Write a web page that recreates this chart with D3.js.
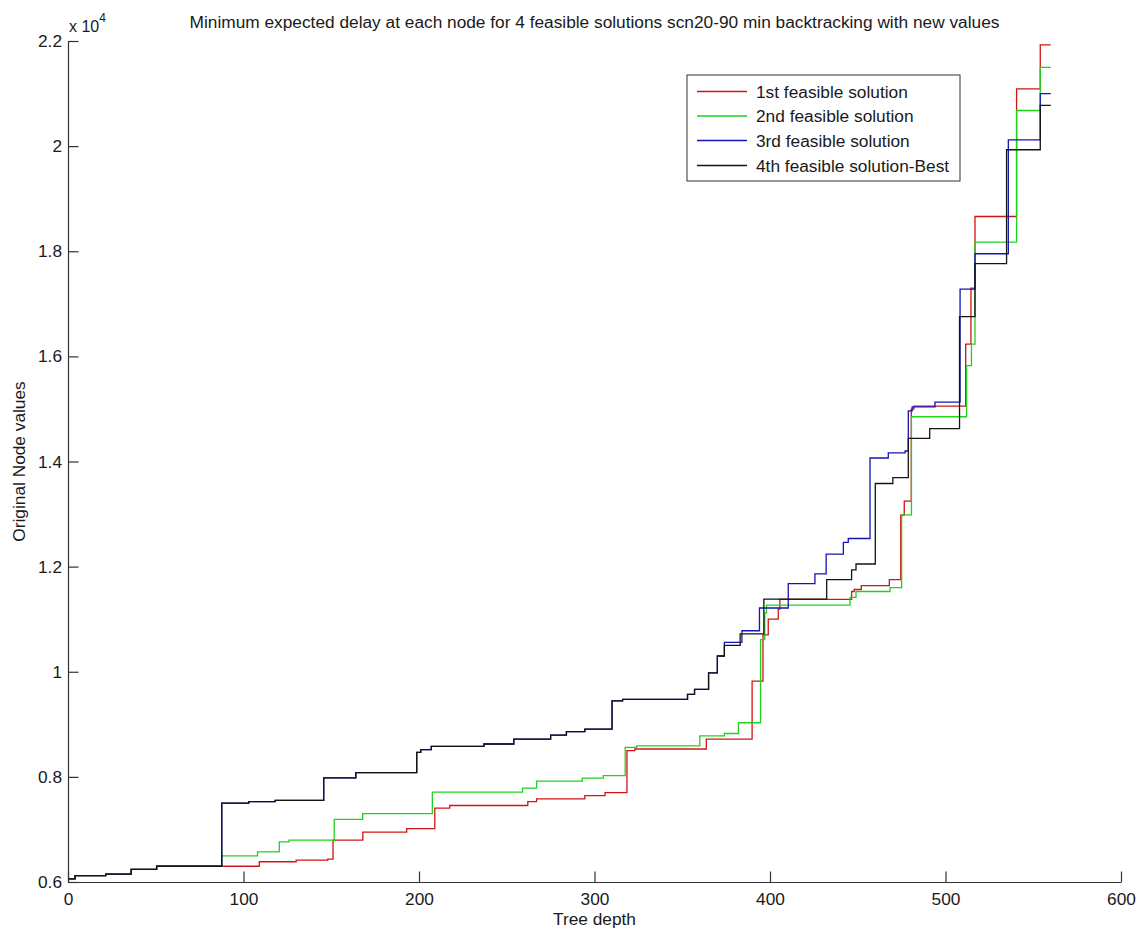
<!DOCTYPE html>
<html>
<head>
<meta charset="utf-8">
<script src="https://cdn.jsdelivr.net/npm/d3@7"></script>
<style>
  html, body { margin: 0; padding: 0; background: #fff; }
  svg { display: block; font-family: "Liberation Sans", Arial, Helvetica, sans-serif; }
</style>
</head>
<body>
<svg id="chart" width="1139" height="928"></svg>
<script>
// ---------------- data ----------------
const titleText = "Minimum expected delay at each node for 4 feasible solutions scn20-90 min backtracking with new values";
const xLabel = "Tree depth";
const yLabel = "Original Node values";
const seriesNames = ["1st feasible solution", "2nd feasible solution", "3rd feasible solution", "4th feasible solution-Best"];
const seriesColors = ["#d21414", "#1ed21e", "#1414b4", "#141414"];
const xTicks = [0, 100, 200, 300, 400, 500, 600];
const yTicks = [6000, 8000, 10000, 12000, 14000, 16000, 18000, 20000, 22000];

// 1st feasible solution (red)
const depth1 = [0, 4, 21.5, 36, 50.5, 109, 130, 148, 151, 168, 193, 209, 217.5, 262, 267, 294.5, 306, 318.5, 323, 363.7, 389.8, 396, 399, 404.7, 405.6, 446.5, 448, 452, 468, 474.5, 476.5, 480.5, 482, 511.5, 514.5, 516.8, 540.5, 554, 560];
const delay1 = [6060, 6120, 6150, 6240, 6300, 6385, 6415, 6435, 6795, 6950, 7015, 7405, 7455, 7530, 7580, 7645, 7700, 8500, 8530, 8720, 9820, 10700, 11000, 11191, 11378, 11527, 11565, 11640, 11751, 12980, 13245, 14998, 15053, 16233, 17300, 18661, 21089, 21925, 21925];

// 2nd feasible solution (green)
const depth2 = [0, 4, 21.5, 36, 50.5, 87.6, 108, 120.4, 126, 151.7, 167.9, 207.6, 259, 267, 293, 305, 317.5, 324, 360, 374, 382, 394.6, 397, 398, 445.6, 449, 468.4, 475, 480.6, 512, 514.8, 516.8, 540.5, 554, 560];
const delay2 = [6060, 6120, 6150, 6240, 6300, 6498, 6575, 6765, 6795, 7190, 7300, 7710, 7785, 7920, 7975, 8025, 8560, 8590, 8780, 8825, 9030, 10610, 11120, 11266, 11415, 11527, 11601, 12984, 14851, 15823, 16233, 18175, 20678, 21500, 21500];

// 3rd feasible solution (blue)
const depth3 = [0, 4, 21.5, 36, 50.5, 87.6, 103, 118, 145.7, 164, 198.7, 201, 207, 237, 254, 275, 284, 294.5, 310, 316, 353, 357, 365, 370, 374, 384, 394, 410.4, 425.6, 432, 441.8, 444.6, 457, 467.4, 477, 478.8, 481, 494, 508.3, 516.8, 535.8, 554, 560];
const delay3 = [6060, 6120, 6150, 6240, 6300, 7500, 7528, 7553, 7980, 8080, 8466, 8520, 8580, 8625, 8720, 8795, 8860, 8910, 9445, 9475, 9570, 9665, 9980, 10300, 10560, 10780, 11213, 11677, 11863, 12236, 12460, 12535, 14067, 14164, 14200, 14963, 15038, 15128, 17280, 17952, 20118, 20999, 20999];

// 4th feasible solution-Best (black)
const depth4 = [0, 4, 21.5, 36, 50.5, 87.6, 103, 118, 145.7, 164, 198.7, 201, 207, 237, 254, 275, 284, 294.5, 310, 316, 353, 357, 365, 370, 374, 383, 396.5, 432.3, 446.5, 449, 460, 470, 478.8, 491, 508, 516.8, 534.8, 554, 560];
const delay4 = [6060, 6120, 6150, 6240, 6300, 7500, 7528, 7553, 7980, 8080, 8466, 8520, 8580, 8625, 8720, 8795, 8860, 8910, 9445, 9475, 9570, 9665, 9980, 10300, 10500, 10720, 11380, 11751, 11939, 12050, 13581, 13693, 14440, 14627, 16756, 17765, 19931, 20775, 20775];

const depths = [depth1, depth2, depth3, depth4];
const delays = [delay1, delay2, delay3, delay4];

(function () {
  // ---------------- layout ----------------
  const pLeft = 68, pRight = 1121, pTop = 41, pBottom = 882;
  const fontSize = 17.3;
  const textColor = "#1a1a1a";
  const axisColor = "#333";

  const svg = d3.select("#chart");
  const x = d3.scaleLinear().domain([0, 600]).range([pLeft, pRight]);
  const y = d3.scaleLinear().domain([6000, 22000]).range([pBottom, pTop]);

  // lines
  const line = d3.line().x(d => x(d[0])).y(d => y(d[1])).curve(d3.curveStepAfter);
  const series = depths.map((ds, i) => ds.map((d, j) => [d, delays[i][j]]));
  svg.append("g").selectAll("path").data(series).join("path")
    .attr("d", d => line(d))
    .attr("fill", "none")
    .attr("stroke", (d, i) => seriesColors[i])
    .attr("stroke-width", 1.3);

  // axes
  const xAxis = d3.axisBottom(x).tickValues(xTicks).tickSizeInner(-10.5).tickSizeOuter(0).tickPadding(11).tickFormat(d3.format("d"));
  const yAxis = d3.axisLeft(y).tickValues(yTicks).tickSizeInner(-10.5).tickSizeOuter(0).tickPadding(6).tickFormat(d => String(d / 10000));

  const gx = svg.append("g").attr("transform", `translate(0,${pBottom})`).call(xAxis);
  const gy = svg.append("g").attr("transform", `translate(${pLeft},0)`).call(yAxis);
  [gx, gy].forEach(g => {
    g.select(".domain").attr("stroke", axisColor).attr("stroke-width", 1.2);
    g.selectAll(".tick line").attr("stroke", axisColor).attr("stroke-width", 1.2);
    g.selectAll(".tick text").attr("fill", textColor).style("font-size", fontSize + "px").style("font-family", "'Liberation Sans', Arial, sans-serif");
  });

  // exponent label
  const expo = svg.append("text").attr("x", 69).attr("y", 32).attr("fill", textColor).style("font-size", "16px");
  expo.append("tspan").text("x 10");
  expo.append("tspan").attr("dy", -10).style("font-size", "12px").text("4");

  // title
  svg.append("text").attr("x", (pLeft + pRight) / 2).attr("y", 28).attr("text-anchor", "middle")
    .attr("fill", textColor).style("font-size", fontSize + "px").text(titleText);

  // axis labels
  svg.append("text").attr("x", (pLeft + pRight) / 2).attr("y", 925).attr("text-anchor", "middle")
    .attr("fill", textColor).style("font-size", fontSize + "px").text(xLabel);
  svg.append("text").attr("transform", `translate(25,${(pTop + pBottom) / 2}) rotate(-90)`).attr("text-anchor", "middle")
    .attr("fill", textColor).style("font-size", fontSize + "px").text(yLabel);

  // legend
  const legend = svg.append("g");
  legend.append("rect").attr("x", 687).attr("y", 75).attr("width", 273).attr("height", 106)
    .attr("fill", "#fff").attr("stroke", "#333").attr("stroke-width", 1);
  const rowY = [91.5, 116, 140.5, 165.5];
  seriesNames.forEach((name, i) => {
    legend.append("line").attr("x1", 697).attr("x2", 747).attr("y1", rowY[i]).attr("y2", rowY[i])
      .attr("stroke", seriesColors[i]).attr("stroke-width", 1.3);
    legend.append("text").attr("x", 756).attr("y", rowY[i]).attr("dy", "0.35em")
      .attr("fill", textColor).style("font-size", fontSize + "px").text(name);
  });
})();
</script>
</body>
</html>
